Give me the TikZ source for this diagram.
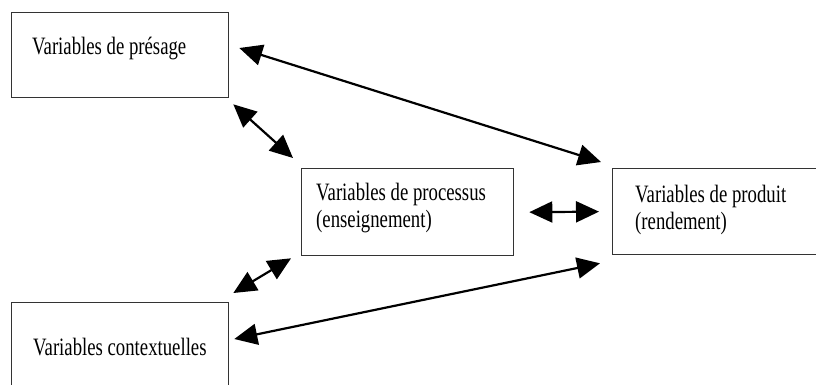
\documentclass[tikz,border=0pt]{standalone}
\usepackage{fontspec}
\setmainfont{Liberation Serif}[FakeStretch=0.75]
\usetikzlibrary{arrows.meta}

\begin{document}
\begin{tikzpicture}[x=1pt,y=-1pt,
	boite/.style={draw=black!80,line width=1.3pt,anchor=north west,inner sep=0pt},
	texte/.style={anchor=base west,inner sep=0pt,align=left,font=\fontsize{25}{27}\selectfont},
	lien/.style={line width=2.2pt,{Triangle[length=23pt,width=21pt]}-{Triangle[length=23pt,width=21pt]}}]
\useasboundingbox (0,0) rectangle (816,384);
\clip (0,0) rectangle (816,384);
% boites
\node[boite,minimum width=217pt,minimum height=85pt] (presage) at (11,12) {};
\node[boite,minimum width=212pt,minimum height=87pt] (processus) at (301,168) {};
\node[boite,minimum width=230pt,minimum height=86pt] (produit) at (612,168) {};
\node[boite,minimum width=217pt,minimum height=100pt] (contexte) at (11,302) {};
% textes (base = derniere ligne)
\node[texte] (presage-t) at ([shift={(21,42)}]presage.north west) {Variables de présage};
\node[texte] (processus-t) at ([shift={(15,59)}]processus.north west) {Variables de processus\\(enseignement)};
\node[texte] (produit-t) at ([shift={(23,61)}]produit.north west) {Variables de produit\\(rendement)};
\node[texte] (contexte-t) at ([shift={(22,53)}]contexte.north west) {Variables contextuelles};
% fleches
\draw[lien] ([shift={(10,36)}]presage.north east) -- ([shift={(-11,-6)}]produit.north west);
\draw[lien] ([shift={(4,6)}]presage.south east) -- ([shift={(-8,-10)}]processus.north west);
\draw[lien] ([shift={(15,0)}]processus.east) -- ([shift={(-13,0)}]produit.west);
\draw[lien] ([shift={(4,-9)}]contexte.north east) -- ([shift={(-10,2)}]processus.south west);
\draw[lien] ([shift={(5,37)}]contexte.north east) -- ([shift={(-12,8)}]produit.south west);
\end{tikzpicture}
\end{document}
